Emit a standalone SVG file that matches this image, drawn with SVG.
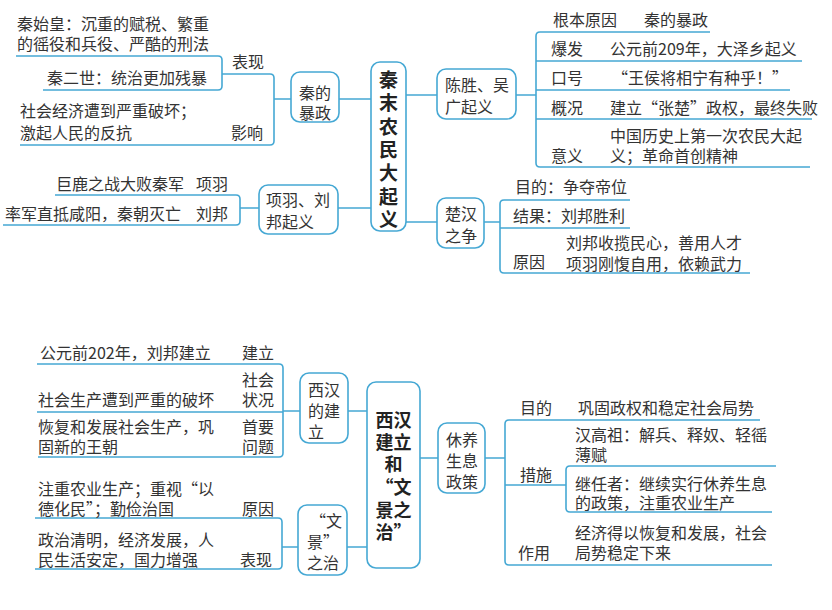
<svg xmlns="http://www.w3.org/2000/svg" width="832" height="610" viewBox="0 0 832 610">
<style>
text{font-family:"Noto Sans CJK SC","Noto Sans",sans-serif;font-size:16px;fill:#333}
.b{font-weight:bold;font-size:19px;fill:#222;text-anchor:middle}
.b2{font-weight:bold;font-size:18px;fill:#222;text-anchor:middle}
.n{fill:#fff;stroke:#45a8d4;stroke-width:1.6}
.l{fill:none;stroke:#45a8d4;stroke-width:1.6;stroke-linejoin:round}
</style>
<rect width="832" height="610" fill="#fff"/>
<g id="connectors">
<path class="l" d="M16,56H218Q222,56 222,60V86Q222,90 218,90H43"/>
<path class="l" d="M222,74H270Q274,74 274,78V141Q274,145 270,145H20M274,99H291M339,99H371"/>
<path class="l" d="M55,195H236Q240,195 240,199V221Q240,225 236,225H3M240,208H259M338,208H371"/>
<path class="l" d="M406,95H437M516,95H536M710,32H540Q536,32 536,36V163Q536,167 540,167H810M536,61H802M536,90H790M536,119H812"/>
<path class="l" d="M406,222H437M484,222H500M630,200H504Q500,200 500,204V269Q500,273 504,273H750M500,228H630"/>
<path class="l" d="M37,364H279Q283,364 283,368V453Q283,457 279,457H38M37,412H283M283,411H300M348,411H367"/>
<path class="l" d="M35,518H278Q282,518 282,522V565Q282,569 278,569H35M282,547H298M347,547H367"/>
<path class="l" d="M420,458H438M485,458H505M760,420H509Q505,420 505,424V561Q505,565 509,565H772M505,485H566M776,466H570Q566,466 566,470V508Q566,512 570,512H772"/>
</g>
<g id="n-center1"><rect class="n" x="371" y="62" width="35" height="169" rx="9"/>
<text class="b" x="388.5" y="87">秦</text><text class="b" x="388.5" y="110">末</text><text class="b" x="388.5" y="134">农</text><text class="b" x="388.5" y="157">民</text><text class="b" x="388.5" y="180">大</text><text class="b" x="388.5" y="204">起</text><text class="b" x="388.5" y="227">义</text></g>
<g id="n-qin"><rect class="n" x="291" y="72" width="48" height="50" rx="9"/><text x="299" y="99">秦的</text><text x="299" y="119">暴政</text>
<text x="17" y="30">秦始皇：沉重的赋税、繁重</text><text x="17" y="50">的徭役和兵役、严酷的刑法</text><text x="47" y="84">秦二世：统治更加残暴</text><text x="232" y="68">表现</text>
<text x="20" y="117">社会经济遭到严重破坏；</text><text x="20" y="139">激起人民的反抗</text><text x="231" y="139">影响</text></g>
<g id="n-xl"><rect class="n" x="259" y="185" width="79" height="49" rx="9"/><text x="266" y="206">项羽、刘</text><text x="266" y="228">邦起义</text>
<text x="56" y="190">巨鹿之战大败秦军</text><text x="196" y="190">项羽</text><text x="5" y="220">率军直抵咸阳，秦朝灭亡</text><text x="196" y="220">刘邦</text></g>
<g id="n-cs"><rect class="n" x="437" y="69" width="79" height="50" rx="9"/><text x="445" y="91">陈胜、吴</text><text x="445" y="113">广起义</text>
<text x="553" y="26">根本原因</text><text x="644" y="26">秦的暴政</text>
<text x="551" y="55">爆发</text><text x="610" y="55">公元前209年，大泽乡起义</text>
<text x="551" y="84">口号</text><text x="612" y="84">“王侯将相宁有种乎！”</text>
<text x="551" y="114">概况</text><text x="610" y="114">建立“张楚”政权，最终失败</text>
<text x="610" y="142">中国历史上第一次农民大起</text><text x="551" y="162">意义</text><text x="610" y="162">义；革命首创精神</text></g>
<g id="n-ch"><rect class="n" x="437" y="198" width="47" height="50" rx="9"/><text x="445" y="220">楚汉</text><text x="445" y="242">之争</text>
<text x="515" y="193">目的：争夺帝位</text><text x="513" y="222">结果：刘邦胜利</text><text x="566" y="249">刘邦收揽民心，善用人才</text><text x="513" y="268">原因</text><text x="566" y="270">项羽刚愎自用，依赖武力</text></g>
<g id="n-center2"><rect class="n" x="367" y="382" width="53" height="186" rx="9"/>
<text class="b2" x="393.5" y="427">西汉</text><text class="b2" x="393.5" y="449">建立</text><text class="b2" x="393.5" y="471">和</text><text class="b2" x="393.5" y="494">“文</text><text class="b2" x="393.5" y="517">景之</text><text class="b2" x="393.5" y="539">治”</text></g>
<g id="n-xh"><rect class="n" x="300" y="373" width="48" height="70" rx="9"/><text x="308" y="396">西汉</text><text x="308" y="417">的建</text><text x="308" y="438">立</text>
<text x="40" y="359">公元前202年，刘邦建立</text><text x="242" y="359">建立</text>
<text x="242" y="386">社会</text><text x="242" y="406">状况</text><text x="38" y="406">社会生产遭到严重的破坏</text>
<text x="242" y="433">首要</text><text x="242" y="453">问题</text><text x="38" y="433">恢复和发展社会生产，巩</text><text x="38" y="453">固新的王朝</text></g>
<g id="n-wj"><rect class="n" x="298" y="505" width="49" height="70" rx="9"/><text x="310" y="527">“文</text><text x="307" y="548">景”</text><text x="307" y="569">之治</text>
<text x="38" y="495">注重农业生产；重视“以</text><text x="38" y="515">德化民”；勤俭治国</text><text x="242" y="515">原因</text>
<text x="38" y="546">政治清明，经济发展，人</text><text x="38" y="566">民生活安定，国力增强</text><text x="240" y="566">表现</text></g>
<g id="n-xy"><rect class="n" x="438" y="423" width="47" height="70" rx="9"/><text x="446" y="446">休养</text><text x="446" y="467">生息</text><text x="446" y="488">政策</text>
<text x="520" y="414">目的</text><text x="578" y="414">巩固政权和稳定社会局势</text>
<text x="575" y="441">汉高祖：解兵、释奴、轻徭</text><text x="575" y="461">薄赋</text><text x="520" y="481">措施</text>
<text x="575" y="490">继任者：继续实行休养生息</text><text x="575" y="509">的政策，注重农业生产</text>
<text x="575" y="539">经济得以恢复和发展，社会</text><text x="575" y="559">局势稳定下来</text><text x="518" y="559">作用</text></g>
</svg>
